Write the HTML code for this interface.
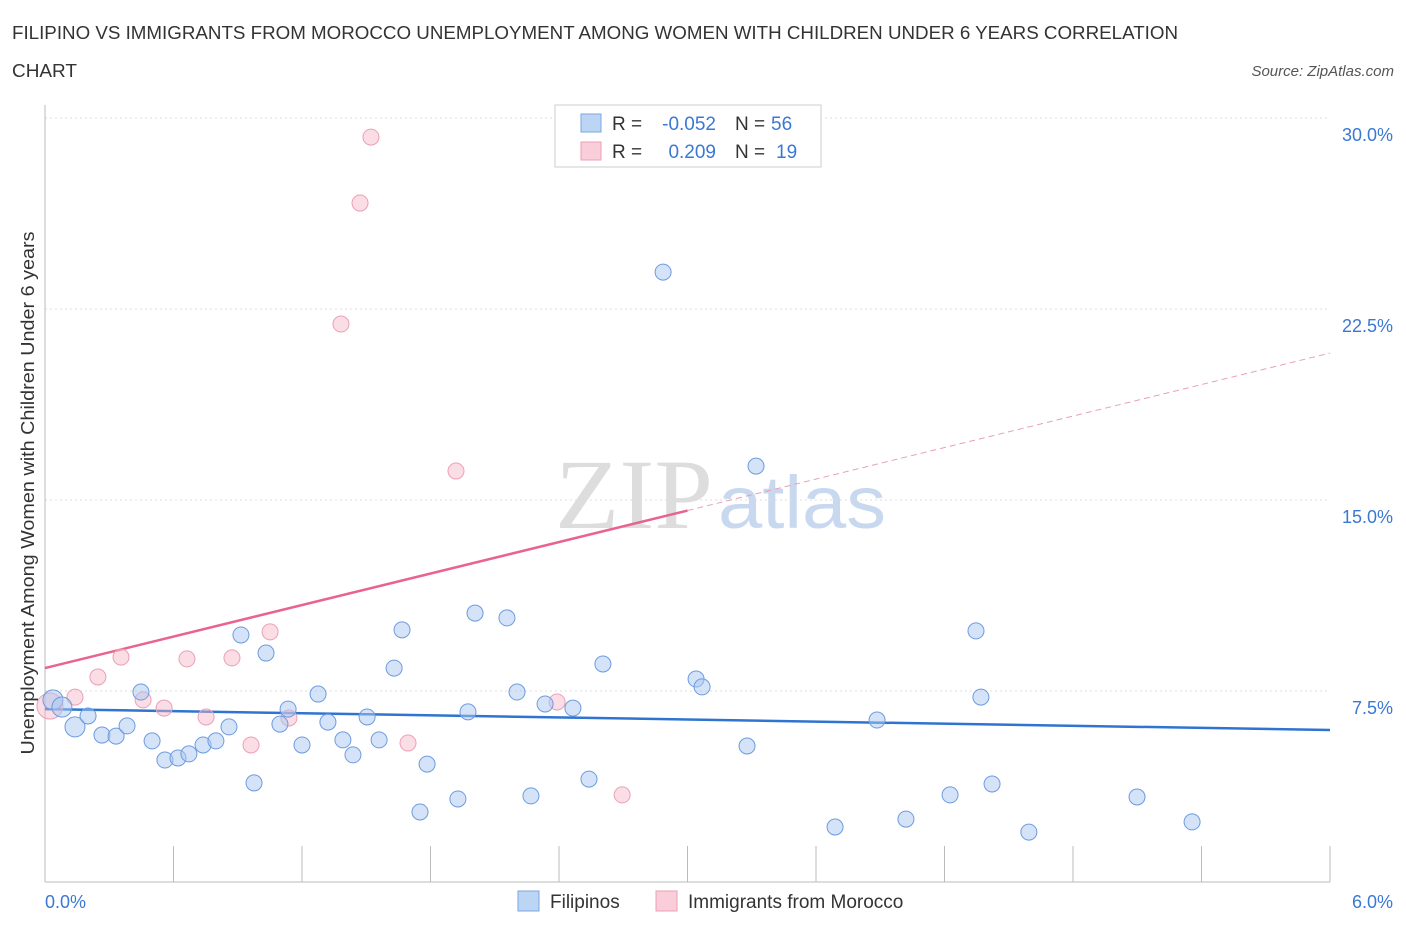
<!DOCTYPE html>
<html><head><meta charset="utf-8"><style>
body{margin:0;background:#fff;font-family:"Liberation Sans",sans-serif}
</style></head><body>
<svg width="1406" height="930" viewBox="0 0 1406 930" xmlns="http://www.w3.org/2000/svg" font-family="Liberation Sans, sans-serif">
<text x="12" y="39" font-size="18" fill="#333" textLength="1166" lengthAdjust="spacingAndGlyphs">FILIPINO VS IMMIGRANTS FROM MOROCCO UNEMPLOYMENT AMONG WOMEN WITH CHILDREN UNDER 6 YEARS CORRELATION</text>
<text x="12" y="77" font-size="18" fill="#333" textLength="65" lengthAdjust="spacingAndGlyphs">CHART</text>
<text x="1394" y="76" font-size="15" fill="#555" text-anchor="end" font-style="italic">Source: ZipAtlas.com</text>
<text x="555" y="528" font-size="100" fill="#ddd" textLength="158" lengthAdjust="spacingAndGlyphs" font-family="Liberation Serif, serif">ZIP</text>
<text x="718" y="528" font-size="74" fill="#c8d8ee" textLength="168" lengthAdjust="spacingAndGlyphs">atlas</text>
<g id="grid"></g>
<g id="axes"></g>
<g id="lines"></g>
<g id="pts"></g>
<text x="34" y="493" font-size="18" fill="#333" text-anchor="middle" textLength="523" lengthAdjust="spacingAndGlyphs" transform="rotate(-90 34 493)">Unemployment Among Women with Children Under 6 years</text>
<g font-size="19">
<rect x="555" y="105" width="266" height="62" fill="#fff" stroke="#ccc"/>
<rect x="581" y="114" width="20" height="18" fill="#bcd5f5" stroke="#7aa6e0"/>
<text x="612" y="130" fill="#333">R =</text>
<text x="716" y="130" fill="#3a78d4" text-anchor="end">-0.052</text>
<text x="735" y="130" fill="#333">N =</text>
<text x="771" y="130" fill="#3a78d4">56</text>
<rect x="581" y="142" width="20" height="18" fill="#f9cdd9" stroke="#eba0b6"/>
<text x="612" y="158" fill="#333">R =</text>
<text x="716" y="158" fill="#3a78d4" text-anchor="end">0.209</text>
<text x="735" y="158" fill="#333">N =</text>
<text x="776" y="158" fill="#3a78d4">19</text>
</g>
<g>
<rect x="518" y="891" width="21" height="20" fill="#bcd5f5" stroke="#7aa6e0"/>
<text x="550" y="908" font-size="19" fill="#333">Filipinos</text>
<rect x="656" y="891" width="21" height="20" fill="#f9cdd9" stroke="#eba0b6"/>
<text x="688" y="908" font-size="19" fill="#333">Immigrants from Morocco</text>
</g>
</svg>
<script>
const yTicks=[7.5,15,22.5,30];
const yTickLabels=["7.5%","15.0%","22.5%","30.0%"];
const xTickLabels=["0.0%","6.0%"];
const blueX=[0.037,0.079,0.140,0.201,0.266,0.332,0.383,0.448,0.500,0.560,0.621,0.672,0.738,0.798,0.859,0.915,0.976,1.032,1.097,1.135,1.200,1.275,1.321,1.391,1.438,1.504,1.560,1.630,1.667,1.784,1.751,1.928,1.975,2.008,2.157,2.204,2.269,2.335,2.465,2.540,2.605,2.886,3.040,3.068,3.278,3.320,3.689,3.885,4.020,4.226,4.347,4.370,4.422,4.594,5.099,5.356];
const blueY=[7.15,6.87,6.09,6.52,5.77,5.73,6.13,7.46,5.54,4.79,4.87,5.03,5.38,5.54,6.09,9.70,3.89,8.99,6.20,6.79,5.38,7.38,6.28,5.58,4.99,6.48,5.58,8.40,9.90,4.63,2.75,3.26,6.68,10.56,10.37,7.46,3.38,6.99,6.83,4.04,8.56,23.95,7.97,7.66,5.34,16.33,2.16,6.36,2.47,3.42,9.86,7.26,3.85,1.96,3.34,2.36];
const pinkX=[0.023,0.140,0.247,0.355,0.458,0.556,0.663,0.752,0.873,0.962,1.051,1.139,1.382,1.471,1.522,1.695,1.919,2.391,2.695];
const pinkY=[6.91,7.26,8.05,8.83,7.15,6.83,8.76,6.48,8.80,5.38,9.82,6.44,21.91,26.66,29.25,5.46,16.14,7.07,3.42];
const blueTrend=[6.79,5.97];
const pinkTrend=[8.40,20.77];
const pinkSolidEnd=3.0;
const X0=45,X1=1330,Y0=882,Ytop=118;
const sx=v=>X0+(v/6)*(X1-X0);
const sy=v=>Y0-(v/30)*(Y0-Ytop);
const NS="http://www.w3.org/2000/svg";
function mk(t,a,p){const e=document.createElementNS(NS,t);for(const k in a)e.setAttribute(k,a[k]);p.appendChild(e);return e;}
const grid=document.getElementById('grid'),axes=document.getElementById('axes');
yTicks.forEach((t,i)=>{
 const l=mk('line',{x1:X0,x2:X1,y1:sy(t),y2:sy(t),stroke:'#ddd','stroke-dasharray':'2,3'},grid);
 
 
 const tx=mk('text',{x:1393,y:sy(t)+23,'font-size':18,fill:'#3a78d4','text-anchor':'end'},axes);
 tx.textContent=yTickLabels[i];
 
 
});
mk('line',{x1:X0,x2:X0,y1:105,y2:Y0,stroke:'#bbb'},axes);
mk('line',{x1:X0,x2:X1,y1:Y0,y2:Y0,stroke:'#bbb'},axes);
for(let i=0;i<=10;i++){const x=sx(i*0.6);mk('line',{x1:x,x2:x,y1:Y0-36,y2:Y0,stroke:'#bbb'},axes);}
[[0,'start',45],[6,'end',1393]].forEach((d,i)=>{
 const tx=mk('text',{x:d[2],y:908,'font-size':18,fill:'#3a78d4','text-anchor':d[1]},axes);
 tx.textContent=xTickLabels[i];
 
 
});
const pts=document.getElementById('pts');
pinkX.forEach((x,i)=>{
 const c=mk('circle',{cx:sx(x),cy:sy(pinkY[i]),r:i==0?13:8,fill:'rgba(246,180,200,0.45)',stroke:'#eba0b6','stroke-width':1},pts);
 
 
});
blueX.forEach((x,i)=>{
 const c=mk('circle',{cx:sx(x),cy:sy(blueY[i]),r:i<3?10:8,fill:'rgba(170,200,240,0.5)',stroke:'#6d9be0','stroke-width':1},pts);
 
 
});
const lines=document.getElementById('lines');
const pm=(pinkTrend[1]-pinkTrend[0])/6;
const ps=mk('line',{x1:sx(0),y1:sy(pinkTrend[0]),x2:sx(pinkSolidEnd),y2:sy(pinkTrend[0]+pm*pinkSolidEnd),stroke:'#e8648e','stroke-width':2.5},lines);


const pd=mk('line',{x1:sx(pinkSolidEnd),y1:sy(pinkTrend[0]+pm*pinkSolidEnd),x2:sx(6),y2:sy(pinkTrend[1]),stroke:'#e8a0b6','stroke-width':1,'stroke-dasharray':'6,4'},lines);


const bl=mk('line',{x1:sx(0),y1:sy(blueTrend[0]),x2:sx(6),y2:sy(blueTrend[1]),stroke:'#2f74d0','stroke-width':2.5},lines);


</script>
</body></html>
